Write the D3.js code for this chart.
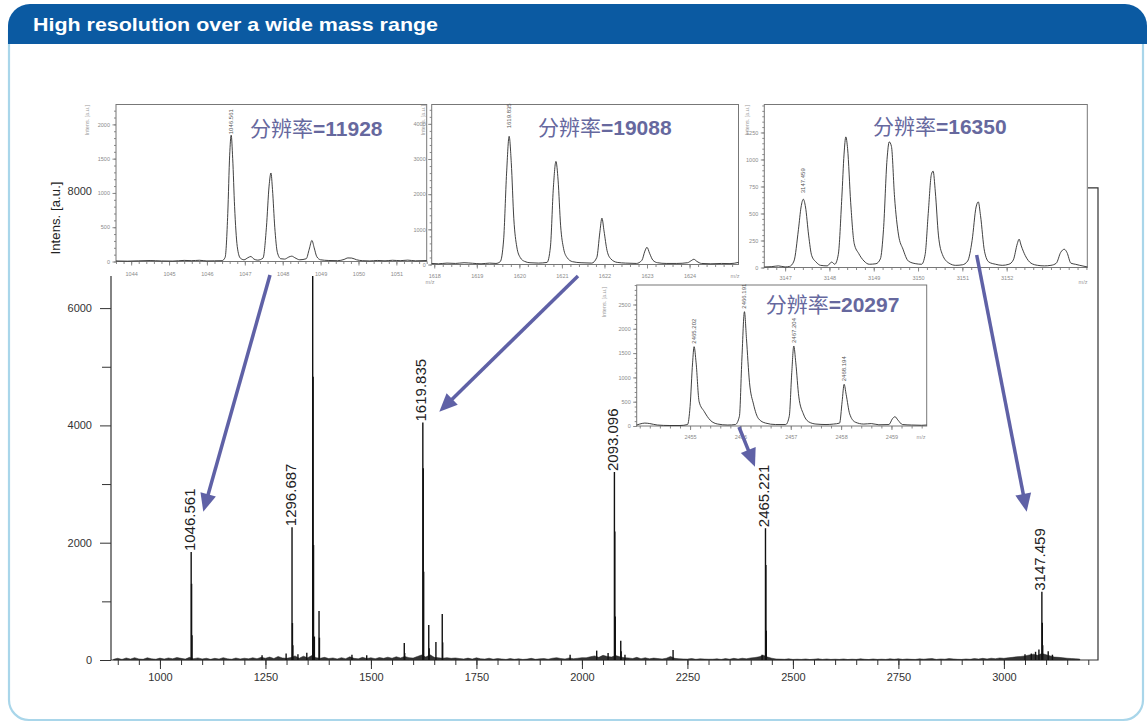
<!DOCTYPE html>
<html><head><meta charset="utf-8">
<script src="https://cdn.jsdelivr.net/npm/d3@7"></script>
<style>
body{margin:0;background:#fff;}
svg text{font-family:"Liberation Sans",Arial,sans-serif;}
</style>
</head><body>
<svg id="c" width="1148" height="724"></svg>
<script>
// ---------------- DATA ----------------
const titleText = "High resolution over a wide mass range";
const mainXTicks = [1000,1250,1500,1750,2000,2250,2500,2750,3000];
const mainYTicks = [0,2000,4000,6000,8000];
const mainYMinor = [1000,3000,5000,7000];
const yAxisLabel = "Intens. [a.u.]";

// main spectrum sticks [m/z as read on axis, intensity]
const mainPeaks = [
 [1074,1840],[1075,1300],[1076,420],
 [1242,80],[1299,110],[1313,2265],[1314,630],[1315,250],[1327,100],[1348,125],
 [1362,7500],[1363,4830],[1364,1960],[1366,400],[1377,835],[1378,380],
 [1455,90],[1490,80],[1579,290],[1580,120],
 [1623,4050],[1624,3270],[1625,1505],[1637,596],[1638,200],[1654,306],[1669,783],[1670,300],
 [1972,90],[2035,160],[2062,120],[2077,3205],[2078,2190],[2079,740],[2092,330],[2093,150],[2102,90],
 [2216,170],[2427,90],[2435,2247],[2436,1620],[2437,500],
 [3050,100],[3065,110],[3075,140],[3083,180],[3090,1163],[3091,636],[3092,250],[3105,150],[3115,90]
];
// labelled peaks [m/z, intensity, label]
const mainLabels = [
 [1074,1840,"1046.561"],[1313,2265,"1296.687"],[1623,4050,"1619.835"],
 [2077,3205,"2093.096"],[2435,2247,"2465.221"],[3090,1163,"3147.459"]
];
// baseline noise, one value every 10 m/z from 890
const noiseStart = 890, noiseStep = 10;
const noise = [
 12,30,10,35,15,40,18,12,38,20,14,32,
 16,35,20,42,28,15,45,22,36,18,
 30,12,28,16,40,20,14,34,18,30,
 20,38,22,45,30,50,25,60,35,28,
 42,70,30,65,38,75,40,30,45,25,
 35,18,40,22,55,28,20,45,25,38,
 22,42,28,48,30,55,35,60,40,32,
 60,85,50,90,45,38,30,40,28,35,
 25,18,32,15,38,20,16,30,14,26,
 18,10,25,12,22,10,16,28,12,20,
 24,14,30,40,25,18,35,22,30,40,
 38,55,70,45,80,60,50,75,55,40,
 36,25,45,22,38,20,32,25,18,30,
 60,28,22,18,15,25,12,20,16,14,
 14,20,10,24,14,28,16,30,20,35,
 42,55,80,50,30,18,15,12,20,10,
 14,10,18,8,14,22,10,18,10,14,
 10,18,8,14,10,20,12,8,18,10,
 14,10,20,12,22,10,18,12,10,20,
 14,20,24,10,18,14,24,18,12,10,
 18,12,24,16,28,18,30,22,35,28,
 38,45,55,60,70,85,100,80,110,90,
 70,50,45,38,30,25,20,15
];

// inset spectra [m/z, intensity]
const inset1Points = [[1043.6,8],[1043.9,5],[1044.2,10],[1044.5,14],[1044.8,8],[1045.1,6],[1045.4,16],[1045.6,12],[1045.8,18],[1046.0,8],[1046.2,10],[1046.4,12],[1046.48,60],[1046.55,700],[1046.6,1550],[1046.64,1842],[1046.68,1500],[1046.73,800],[1046.8,220],[1046.88,50],[1046.98,25],[1047.08,55],[1047.16,73],[1047.24,35],[1047.34,20],[1047.48,50],[1047.57,500],[1047.64,1100],[1047.69,1291],[1047.73,1050],[1047.79,500],[1047.86,130],[1047.95,40],[1048.05,35],[1048.16,65],[1048.24,78],[1048.32,55],[1048.45,25],[1048.62,40],[1048.7,180],[1048.77,307],[1048.83,200],[1048.9,70],[1049.0,25],[1049.2,15],[1049.45,12],[1049.62,30],[1049.72,52],[1049.82,50],[1049.95,25],[1050.1,12],[1050.3,8],[1050.5,15],[1050.7,10],[1050.9,18],[1051.1,12],[1051.3,20],[1051.5,10],[1051.8,14]];
const inset2Points = [[1617.94,30],[1618.1,20],[1618.3,40],[1618.5,30],[1618.7,50],[1618.9,35],[1619.1,20],[1619.3,40],[1619.45,30],[1619.55,80],[1619.63,700],[1619.7,2600],[1619.76,3646],[1619.81,2900],[1619.87,1300],[1619.94,500],[1620.02,200],[1620.12,90],[1620.25,50],[1620.45,40],[1620.65,60],[1620.73,500],[1620.8,2200],[1620.86,2932],[1620.91,2400],[1620.97,1100],[1621.04,450],[1621.12,200],[1621.25,80],[1621.45,50],[1621.7,40],[1621.82,200],[1621.89,900],[1621.94,1318],[1621.99,950],[1622.06,400],[1622.15,160],[1622.3,60],[1622.5,40],[1622.75,30],[1622.88,120],[1622.95,380],[1623.0,489],[1623.06,320],[1623.14,120],[1623.25,50],[1623.45,30],[1623.7,30],[1623.95,50],[1624.04,110],[1624.1,149],[1624.17,90],[1624.28,30],[1624.5,20],[1624.75,30],[1624.95,25],[1625.15,60]];
const inset3Points = [[3146.53,5],[3146.7,8],[3146.85,15],[3147.0,5],[3147.1,10],[3147.2,60],[3147.3,350],[3147.36,560],[3147.41,632],[3147.46,560],[3147.53,300],[3147.6,110],[3147.7,50],[3147.8,20],[3147.95,15],[3148.05,50],[3148.12,30],[3148.2,120],[3148.28,650],[3148.33,1050],[3148.37,1209],[3148.41,1100],[3148.48,600],[3148.56,220],[3148.66,130],[3148.78,60],[3148.9,30],[3149.05,35],[3149.15,80],[3149.22,350],[3149.3,1000],[3149.35,1163],[3149.4,1120],[3149.47,650],[3149.56,300],[3149.66,170],[3149.78,60],[3149.95,35],[3150.08,30],[3150.16,120],[3150.23,500],[3150.3,860],[3150.34,892],[3150.39,700],[3150.46,300],[3150.55,120],[3150.7,40],[3150.85,20],[3151.0,25],[3151.12,60],[3151.22,250],[3151.31,560],[3151.36,607],[3151.41,480],[3151.5,150],[3151.6,50],[3151.75,30],[3151.9,20],[3152.05,30],[3152.15,70],[3152.24,220],[3152.28,262],[3152.33,200],[3152.42,110],[3152.55,40],[3152.7,20],[3152.85,15],[3153.0,20],[3153.12,40],[3153.22,140],[3153.3,169],[3153.36,140],[3153.45,40],[3153.55,30],[3153.65,20],[3153.82,5]];
const inset4Points = [[2453.94,20],[2454.0,40],[2454.1,60],[2454.2,50],[2454.35,20],[2454.6,10],[2454.8,10],[2454.95,30],[2455.0,400],[2455.05,1300],[2455.08,1632],[2455.12,1300],[2455.18,500],[2455.28,300],[2455.4,120],[2455.55,40],[2455.75,20],[2455.9,30],[2455.98,200],[2456.03,1400],[2456.08,2352],[2456.12,1800],[2456.18,900],[2456.26,450],[2456.36,150],[2456.5,60],[2456.7,30],[2456.9,30],[2456.97,200],[2457.02,1100],[2457.06,1646],[2457.1,1300],[2457.16,600],[2457.25,250],[2457.35,90],[2457.5,40],[2457.7,30],[2457.85,40],[2457.97,60],[2458.02,500],[2458.06,858],[2458.1,650],[2458.17,250],[2458.28,80],[2458.45,40],[2458.6,50],[2458.75,25],[2458.95,30],[2459.02,150],[2459.07,191],[2459.13,120],[2459.22,30],[2459.4,20],[2459.6,15],[2459.7,20]];

const inset1Labels = [[1046.64,1842,"1046.561"]];
const inset2Labels = [[1619.76,3646,"1619.835"]];
const inset3Labels = [[3147.41,632,"3147.459"]];
const inset4Labels = [[2455.08,1632,"2465.202"],[2456.08,2352,"2466.191"],[2457.06,1646,"2467.204"],[2458.06,858,"2468.194"]];

const inset1XTicks = [1044,1045,1046,1047,1048,1049,1050,1051];
const inset2XTicks = [1618,1619,1620,1621,1622,1623,1624];
const inset3XTicks = [3147,3148,3149,3150,3151,3152];
const inset4XTicks = [2455,2456,2457,2458,2459];
const inset1YTicks = [0,500,1000,1500,2000];
const inset2YTicks = [0,1000,2000,3000,4000];
const inset3YTicks = [0,250,500,750,1000,1250];
const inset4YTicks = [0,500,1000,1500,2000,2500];

const resPrefix = "分辨率=";
const resolutions = ["11928","19088","16350","20297"];

// arrows in main-chart data coords [m/z from, int from, m/z to, int to]
const arrows = [
 [1260.8,6564,1102.7,2529],
 [1990.7,6547,1662.0,4234],
 [2372.2,3973,2410.1,3296],
 [2935.5,6905,3054.0,2529]
];

// ---------------- DRAW ----------------
const svg = d3.select("#c");
const FONT = "'Liberation Sans',Arial,sans-serif";

// panel
svg.append("rect").attr("x",9).attr("y",10).attr("width",1134).attr("height",710)
  .attr("rx",20).attr("fill","#fff").attr("stroke","#a9d6ea").attr("stroke-width",2.2);
const r=22, bx0=8, bx1=1147, by0=4, by1=44;
svg.append("path")
  .attr("d",`M${bx0},${by1}V${by0+r}A${r},${r} 0 0 1 ${bx0+r},${by0}H${bx1-r}A${r},${r} 0 0 1 ${bx1},${by0+r}V${by1}Z`)
  .attr("fill","#0b5aa2");
svg.append("text").attr("x",33).attr("y",31).attr("fill","#fff").attr("font-weight","bold")
  .attr("font-size",19).attr("textLength",405).attr("lengthAdjust","spacingAndGlyphs").text(titleText);

// main scales
const x = d3.scaleLinear().domain([884,3223]).range([111,1098]);
const y = d3.scaleLinear().domain([0,8000]).range([660,190.8]);
const gm = svg.append("g");

function styleAxis(g, size, color){
  g.select(".domain").remove();
  g.attr("font-family",FONT).attr("font-size",size);
  g.selectAll("line").attr("stroke",color);
  g.selectAll("text").attr("fill",color);
}

// frame
gm.append("path").attr("d",`M${x(884)},${y(0)}V${y(8050)}H${x(3223)}V${y(0)}Z`)
  .attr("fill","none").attr("stroke","#333").attr("stroke-width",1.2);
// x axis
gm.append("g").attr("transform",`translate(0,${y(0)})`)
  .call(d3.axisBottom(x).tickValues(d3.range(900,3201,50)).tickSize(5).tickFormat(""))
  .call(g=>styleAxis(g,11,"#333"));
gm.append("g").attr("transform",`translate(0,${y(0)})`)
  .call(d3.axisBottom(x).tickValues(mainXTicks).tickSize(9).tickPadding(4).tickFormat(d3.format("d")))
  .call(g=>styleAxis(g,11,"#333"));
// y axis
gm.append("g").attr("transform",`translate(${x(884)},0)`)
  .call(d3.axisLeft(y).tickValues(mainYMinor).tickSize(9).tickFormat(""))
  .call(g=>styleAxis(g,11,"#333"));
gm.append("g").attr("transform",`translate(${x(884)},0)`)
  .call(d3.axisLeft(y).tickValues(mainYTicks).tickSize(11).tickPadding(8).tickFormat(d3.format("d")))
  .call(g=>styleAxis(g,11,"#333"));
gm.append("text").attr("transform",`translate(60,218) rotate(-90)`).attr("text-anchor","middle")
  .attr("font-family","'Liberation Serif','DejaVu Serif',serif").attr("font-size",13)
  .attr("textLength",73).attr("fill","#222").text(yAxisLabel);

// noise band
const noisePts = noise.map((v,i)=>[noiseStart+i*noiseStep, v]);
gm.append("path").datum(noisePts)
  .attr("d",d3.area().x(d=>x(d[0])).y0(y(0)).y1(d=>y(d[1])))
  .attr("fill","#333").attr("stroke","#222").attr("stroke-width",0.5);
// sticks
gm.append("g").selectAll("line").data(mainPeaks).join("line")
  .attr("x1",d=>x(d[0])).attr("x2",d=>x(d[0]))
  .attr("y1",y(0)).attr("y2",d=>y(d[1]))
  .attr("stroke","#111").attr("stroke-width",1.4);
// peak labels
gm.append("g").selectAll("text").data(mainLabels).join("text")
  .attr("transform",d=>`translate(${x(d[0])+3.5},${y(d[1])-1}) rotate(-90)`)
  .attr("font-size",15).attr("fill","#222").text(d=>d[2]);

// ---------------- INSETS ----------------
function inset(c){
  const g = svg.append("g");
  if(c.bg) g.append("rect").attr("x",c.bg[0]).attr("y",c.bg[1])
    .attr("width",c.bg[2]-c.bg[0]).attr("height",c.bg[3]-c.bg[1]).attr("fill","#fff");
  const xs = d3.scaleLinear().domain(c.xd).range([c.box[0],c.box[2]]);
  const ys = d3.scaleLinear().domain(c.yd).range([c.box[3],c.box[1]]);
  const col = "#8a8a8a";
  g.append("g").attr("transform",`translate(0,${c.box[3]})`)
    .call(d3.axisBottom(xs).tickValues(d3.range(c.xMinor[0],c.xd[1],0.2)).tickSize(2.5).tickFormat(""))
    .call(a=>styleAxis(a,5.5,col));
  g.append("g").attr("transform",`translate(0,${c.box[3]})`)
    .call(d3.axisBottom(xs).tickValues(c.xTicks).tickSize(4).tickPadding(c.xPad).tickFormat(d3.format("d")))
    .call(a=>styleAxis(a,5.5,col));
  g.append("g").attr("transform",`translate(${c.box[0]},0)`)
    .call(d3.axisLeft(ys).tickValues(d3.range(0,c.yd[1],c.yMinor)).tickSize(2).tickFormat(""))
    .call(a=>styleAxis(a,5.5,col));
  g.append("g").attr("transform",`translate(${c.box[0]},0)`)
    .call(d3.axisLeft(ys).tickValues(c.yTicks).tickSize(3.5).tickPadding(2.5).tickFormat(d3.format("d")))
    .call(a=>styleAxis(a,5.5,col));
  g.append("rect").attr("x",c.box[0]).attr("y",c.box[1])
    .attr("width",c.box[2]-c.box[0]).attr("height",c.box[3]-c.box[1])
    .attr("fill","none").attr("stroke","#777").attr("stroke-width",1);
  g.append("path").datum(c.points)
    .attr("d",d3.line().x(d=>xs(d[0])).y(d=>ys(d[1])).curve(d3.curveMonotoneX))
    .attr("fill","none").attr("stroke","#2b2b2b").attr("stroke-width",0.9);
  g.selectAll("text.pl").data(c.labels).join("text").attr("class","pl")
    .attr("transform",d=>`translate(${xs(d[0])+2},${ys(d[1])-c.gap}) rotate(-90)`)
    .attr("font-size",6).attr("fill","#555").text(d=>d[2]);
  g.append("text").attr("transform",`translate(${c.intens[0]},${c.intens[1]}) rotate(-90)`)
    .attr("text-anchor","end").attr("font-size",5.5).attr("fill","#999").text(yAxisLabel);
  g.append("text").attr("x",c.mz[0]).attr("y",c.mz[1]).attr("text-anchor","middle")
    .attr("font-size",5.5).attr("fill","#999").text("m/z");
  const t = g.append("text").attr("x",c.res[0]).attr("y",c.res[1]).attr("fill","#66689e").attr("font-size",21);
  t.append("tspan").attr("font-family","'Noto Sans CJK SC',sans-serif").text(resPrefix.slice(0,3));
  t.append("tspan").attr("font-family",FONT).attr("font-weight","bold").text(resPrefix.slice(3)+c.resText);
}

inset({box:[116,104.5,426.7,261.5], xd:[1043.6,1051.8], yd:[0,2290], xTicks:inset1XTicks, xMinor:[1043.6],
  yTicks:inset1YTicks, yMinor:100, bg:[95,100,428,276], intens:[88.5,105], mz:[430,284],
  res:[250,136], resText:resolutions[0], points:inset1Points, labels:inset1Labels, gap:1, xPad:7});
inset({box:[431.7,104.5,738.5,264.5], xd:[1617.94,1625.15], yd:[0,4551], xTicks:inset2XTicks, xMinor:[1618],
  yTicks:inset2YTicks, yMinor:200, bg:[428,100,742,280], intens:[424.5,105], mz:[735,278],
  res:[538,135], resText:resolutions[1], points:inset2Points, labels:inset2Labels, gap:8, xPad:5.5});
inset({box:[764.3,104.5,1087.3,267.5], xd:[3146.53,3153.82], yd:[0,1509], xTicks:inset3XTicks, xMinor:[3146.6],
  yTicks:inset3YTicks, yMinor:50, bg:[742,100,1088,286], intens:[749,105], mz:[1083,284],
  res:[873,134.3], resText:resolutions[2], points:inset3Points, labels:inset3Labels, gap:6, xPad:5});
inset({box:[636.7,285,926.7,426], xd:[2453.94,2459.7], yd:[0,2901], xTicks:inset4XTicks, xMinor:[2454],
  yTicks:inset4YTicks, yMinor:100, bg:[621,282,930,442], intens:[606,287], mz:[921,439],
  res:[765.7,311.7], resText:resolutions[3], points:inset4Points, labels:inset4Labels, gap:3, xPad:5.5});

// ---------------- ARROWS ----------------
const ga = svg.append("g");
arrows.forEach(([m0,i0,m1,i1])=>{
  const x0=x(m0), y0=y(i0), x1=x(m1), y1=y(i1);
  const a=Math.atan2(y1-y0,x1-x0), L=18, W=8;
  const bx=x1-L*Math.cos(a), by=y1-L*Math.sin(a);
  ga.append("line").attr("x1",x0).attr("y1",y0).attr("x2",bx+4*Math.cos(a)).attr("y2",by+4*Math.sin(a))
    .attr("stroke","#5f61a6").attr("stroke-width",3.5);
  ga.append("path").attr("d",`M${x1},${y1}L${bx+W*Math.sin(a)},${by-W*Math.cos(a)}L${bx-W*Math.sin(a)},${by+W*Math.cos(a)}Z`)
    .attr("fill","#5f61a6");
});
</script>
</body></html>
